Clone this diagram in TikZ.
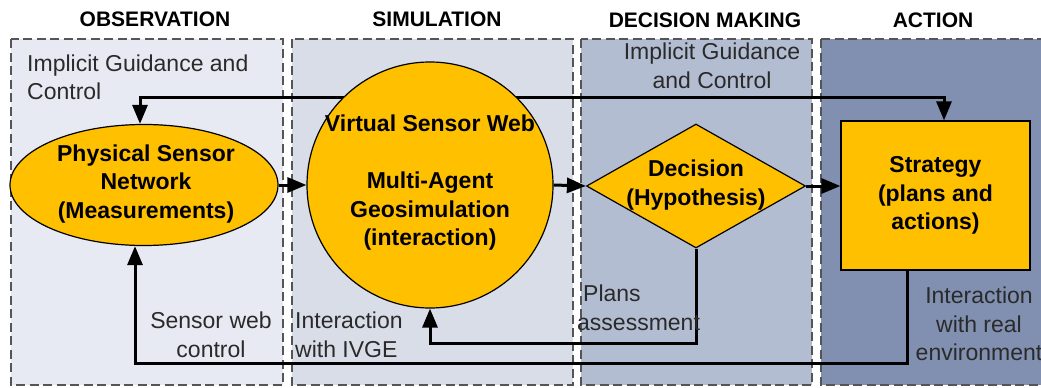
\documentclass[tikz,border=0pt]{standalone}
\usepackage{fontspec}
\setmainfont{Liberation Sans}
\usetikzlibrary{shapes.geometric,arrows.meta}
\definecolor{orng}{HTML}{FFC000}
\definecolor{pobs}{HTML}{E7EAF2}
\definecolor{psim}{HTML}{D8DDE8}
\definecolor{pdec}{HTML}{B3BDD2}
\definecolor{pact}{HTML}{8190B1}
\definecolor{dashgray}{HTML}{555555}
\definecolor{lbl}{HTML}{2A2A2A}
\pgfdeclarelayer{panels}
\pgfdeclarelayer{lines}
\pgfsetlayers{panels,lines,main}
\begin{document}
\begin{tikzpicture}[x=1pt,y=-1pt,
  panel/.style={draw=dashgray, line width=1.3pt, dash pattern=on 9pt off 4.5pt},
  shapebox/.style={draw=black, fill=orng, line width=1.2pt, inner sep=0pt},
  conn/.style={draw=black, line width=3pt, -{Triangle[length=19pt,width=15pt]}},
  conntwo/.style={draw=black, line width=3pt, {Triangle[length=19pt,width=15pt]}-{Triangle[length=19pt,width=15pt]}},
  heading/.style={font=\bfseries\fontsize{21}{25}\selectfont, inner sep=0pt},
  nodetext/.style={font=\bfseries\fontsize{23}{28.5}\selectfont, align=center, inner sep=0pt},
  lab/.style={font=\fontsize{23}{28.5}\selectfont, text=lbl, inner sep=0pt}
]
\useasboundingbox (0,0) rectangle (1041,388);
\clip (0,0) rectangle (1041,388);

% panels
\begin{pgfonlayer}{panels}
\fill[white] (0,0) rectangle (1041,388);
\draw[panel, fill=pobs] (11,39) rectangle (283,385);
\draw[panel, fill=psim] (292,39) rectangle (573,385);
\draw[panel, fill=pdec] (581,39) rectangle (812,385);
\draw[panel, fill=pact] (821,39) rectangle (1060,385);
\end{pgfonlayer}

% headings
\node[heading] (hobs) at (155,19) {OBSERVATION};
\node[heading] (hsim) at (437,19) {SIMULATION};
\node[heading] (hdec) at (705,20) {DECISION MAKING};
\node[heading] (hact) at (933,20) {ACTION};

% shapes
\node[shapebox, ellipse, minimum width=268pt, minimum height=121pt] (ell) at (144,185) {};
\node[shapebox, circle, minimum size=246pt] (circ) at (430,185) {};
\node[shapebox, diamond, minimum width=219pt, minimum height=124pt] (dia) at (696,186) {};
\node[shapebox, rectangle, minimum width=189pt, minimum height=149pt, nodetext] (rect) at (935.5,195.5) {Strategy\\(plans and\\actions)};

% shape texts
\node[nodetext] (elltext) at (146,184) {Physical Sensor\\Network\\(Measurements)};
\node[nodetext] (circtext) at (430,183) {Virtual Sensor Web\\[28.5pt]Multi-Agent\\Geosimulation\\(interaction)};
\node[nodetext] (diatext) at (696,185) {Decision\\(Hypothesis)};

% labels
\node[lab, align=left, anchor=west] (igc1) at (27,77.5) {Implicit Guidance and\\Control};
\node[lab, align=center] (igc2) at (712,66) {Implicit Guidance\\and Control};
\node[lab, align=center] (swc) at (211,335) {Sensor web\\control};
\node[lab, align=left, anchor=west] (ivge) at (295,335) {Interaction\\with IVGE};
\node[lab, align=left, anchor=west] (pa) at (577,308) {\hspace*{6pt}Plans\\assessment};
\node[lab, align=center] (ire) at (979,324) {Interaction\\with real\\environment};

% connector coordinates
\coordinate (topL) at (140,97);
\coordinate (topR) at (944,97);
\coordinate (botR) at (907,363);
\coordinate (botL) at (135,363);
\coordinate (pb) at (430,343);

% connectors
\begin{pgfonlayer}{lines}
\draw[conntwo] (topL |- ell.north) -- (topL) -- (topR) -- (topR |- rect.north);
\draw[conn] (botR |- rect.south) -- (botR) -- (botL) -- (botL |- ell.south);
\draw[conn] (dia.south) |- (pb) -- (circ.south);
\end{pgfonlayer}
\draw[conn] (ell.east) -- (circ.west);
\draw[conn] (circ.east) -- (dia.west);
\draw[conn] (dia.east) -- (dia.east -| rect.west);
\end{tikzpicture}
\end{document}
